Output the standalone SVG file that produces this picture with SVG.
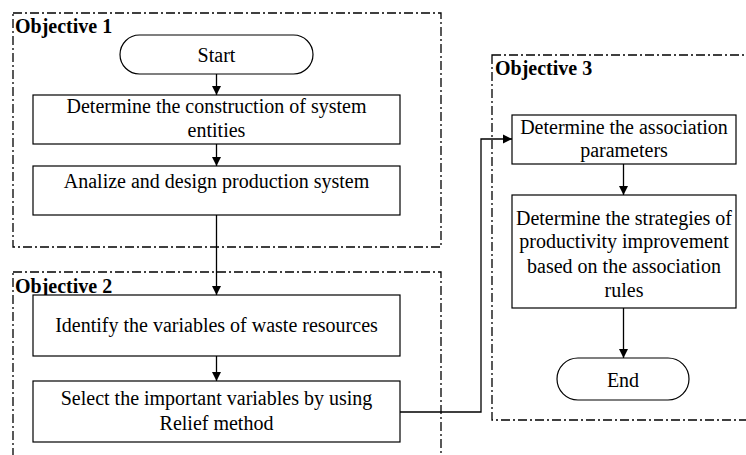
<svg xmlns="http://www.w3.org/2000/svg" width="746" height="455" viewBox="0 0 746 455">
<defs>
<marker id="ah" markerWidth="10" markerHeight="10" refX="9" refY="5" orient="auto" markerUnits="userSpaceOnUse">
<path d="M0,0.5 L9,5 L0,9.5 Z" fill="#000"/>
</marker>
<style>
.grp{fill:none;stroke:#000;stroke-width:1.3;stroke-dasharray:9 3 2 3}
.box{fill:#fff;stroke:#000;stroke-width:1.2}
.t{font-family:"Liberation Serif","Times New Roman",serif;font-size:20px;fill:#000;text-anchor:middle}
.lbl{font-family:"Liberation Serif","Times New Roman",serif;font-size:20px;font-weight:bold;fill:#000}
.c{fill:none;stroke:#000;stroke-width:1.3;marker-end:url(#ah)}
</style>
</defs>
<rect width="746" height="455" fill="#fff"/>
<g id="objective1">
<rect class="grp" x="13" y="13" width="428" height="234"/>
<text class="lbl" x="15" y="33">Objective 1</text>
</g>
<g id="objective2">
<rect class="grp" x="13" y="272" width="428" height="200"/>
<text class="lbl" x="15" y="293">Objective 2</text>
</g>
<g id="objective3">
<rect class="grp" x="492" y="55" width="260" height="365"/>
<text class="lbl" x="495" y="75">Objective 3</text>
</g>
<g id="connectors">
<line class="c" x1="216.5" y1="74" x2="216.5" y2="95"/>
<line class="c" x1="216.5" y1="144" x2="216.5" y2="166"/>
<line class="c" x1="216.5" y1="215" x2="216.5" y2="295"/>
<line class="c" x1="216.5" y1="356" x2="216.5" y2="381"/>
<polyline class="c" points="400,412 481,412 481,139 512,139"/>
<line class="c" x1="623.5" y1="164" x2="623.5" y2="195"/>
<line class="c" x1="623.5" y1="308" x2="623.5" y2="358"/>
</g>
<g id="start">
<rect class="box" x="120" y="35" width="193" height="39" rx="19.5"/>
<text class="t" x="216.5" y="62">Start</text>
</g>
<g id="construction">
<rect class="box" x="33" y="95" width="367" height="49"/>
<text class="t" x="216.5" y="113">Determine the construction of system</text>
<text class="t" x="216.5" y="137">entities</text>
</g>
<g id="analize">
<rect class="box" x="33" y="166" width="367" height="49"/>
<text class="t" x="216.5" y="188">Analize and design production system</text>
</g>
<g id="identify">
<rect class="box" x="33" y="295" width="367" height="61"/>
<text class="t" x="216.5" y="332">Identify the variables of waste resources</text>
</g>
<g id="select">
<rect class="box" x="33" y="381" width="367" height="61"/>
<text class="t" x="216.5" y="405">Select the important variables by using</text>
<text class="t" x="216.5" y="430">Relief method</text>
</g>
<g id="association">
<rect class="box" x="512" y="115" width="224" height="49"/>
<text class="t" x="624" y="134">Determine the association</text>
<text class="t" x="624" y="157">parameters</text>
</g>
<g id="strategies">
<rect class="box" x="512" y="195" width="224" height="113"/>
<text class="t" x="624" y="225">Determine the strategies of</text>
<text class="t" x="624" y="248">productivity improvement</text>
<text class="t" x="624" y="273">based on the association</text>
<text class="t" x="624" y="297">rules</text>
</g>
<g id="end">
<rect class="box" x="557" y="358" width="132" height="42" rx="21"/>
<text class="t" x="623" y="387">End</text>
</g>
</svg>
